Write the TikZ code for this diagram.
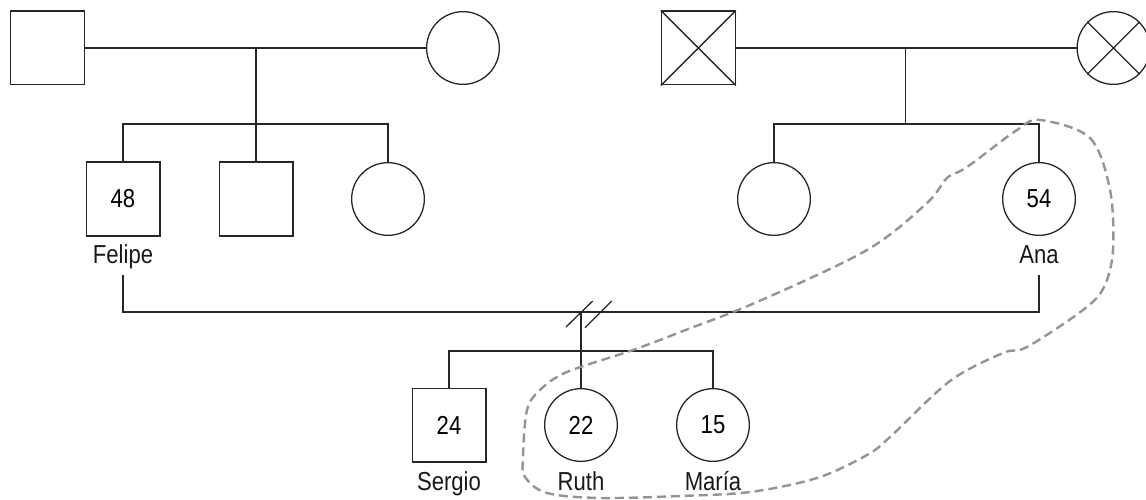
\documentclass[tikz,border=0pt]{standalone}
\usepackage{fontspec}
\setmainfont[FakeStretch=0.85]{Liberation Sans}
\begin{document}
\begin{tikzpicture}[x=1pt,y=-1pt,
  ln/.style={draw=black!85,line width=1.3pt},
  txt/.style={font=\fontsize{26}{26}\selectfont},
  male/.style={ln,rectangle,minimum size=73.7pt,inner sep=0pt,txt},
  female/.style={ln,circle,minimum size=72.7pt,inner sep=0pt,txt},
  lab/.style={anchor=base,inner sep=0pt,txt,text=black!90},
  conn/.style={ln},
  loop/.style={draw=black!42,line width=2.4pt,dash pattern=on 9pt off 5pt}]
\useasboundingbox (0,0) rectangle (1146,500);
% generation I
\node[male]   (gp1) at (47.5,48) {};
\node[female] (gm1) at (463,48) {};
\node[male]   (gp2) at (698.4,48) {};
\node[female] (gm2) at (1113.5,48) {};
\draw[conn] (gp2.north west) -- (gp2.south east) (gp2.north east) -- (gp2.south west);
\draw[conn] (gm2.45) -- (gm2.225) (gm2.135) -- (gm2.315);
% generation II
\node[male]   (felipe) at (123,199) {48};
\node[male]   (s2) at (256,199) {};
\node[female] (c3) at (388,199) {};
\node[female] (c4) at (774,199) {};
\node[female] (ana) at (1039,199) {54};
\node[lab] (lfelipe) at (123,263) {Felipe};
\node[lab] (lana) at (1039,263) {Ana};
% generation III
\node[male]   (sergio) at (449,425) {24};
\node[female] (ruth) at (581,425) {22};
\node[female] (maria) at (713,425) {15};
\node[lab] (lsergio) at (449,490) {Sergio};
\node[lab] (lruth) at (581,490) {Ruth};
\node[lab] (lmaria) at (713,490) {María};
% helper coordinates
\coordinate (sb1) at (0,124);
\coordinate (ml) at (0,312);
\coordinate (sb3) at (0,351);
\coordinate (m1) at (s2 |- gp1);
\coordinate (m2) at (905.5,48);
\coordinate (fa) at (123,275);
\coordinate (aa) at (1039,275);
\coordinate (dv) at (ruth.north |- ml);
% connectors
\draw[conn] (gp1.east) -- (gm1.west);
\draw[conn] (m1) -- (m1 |- sb1);
\draw[conn] (felipe.north) -- (felipe.north |- sb1) -- (c3.north |- sb1) -- (c3.north);
\draw[conn] (s2.north) -- (s2.north |- sb1);
\draw[conn] (gp2.east) -- (gm2.west);
\draw[conn] (m2) -- (m2 |- sb1);
\draw[conn] (c4.north) -- (c4.north |- sb1) -- (ana.north |- sb1) -- (ana.north);
\draw[conn] (fa) -- (fa |- ml) -- (aa |- ml) -- (aa);
\draw[conn] (ruth.north) -- (dv);
\draw[conn] (sergio.north) -- (sergio.north |- sb3) -- (maria.north |- sb3) -- (maria.north);
\draw[conn] ([shift={(-15,15)}]dv) -- ([shift={(11.7,-11)}]dv);
\draw[conn] ([shift={(4,15.7)}]dv) -- ([shift={(30.7,-11)}]dv);
% household loop
\draw[loop] plot[smooth cycle,tension=0.55] coordinates {
  (1040,120) (1090,138) (1110,190) (1113,250) (1104,287) (1083,310)
  (1027,347) (1003,353) (950,381) (890,437) (867,455) (817,478) (750,492)
  (680,496) (600,498) (547,493) (525,477) (523,457) (527,410) (540,390)
  (567,372) (633,350) (683,331) (757,302) (867,250) (927,203) (947,178)
  (967,167) (1017,130)};
\end{tikzpicture}
\end{document}
